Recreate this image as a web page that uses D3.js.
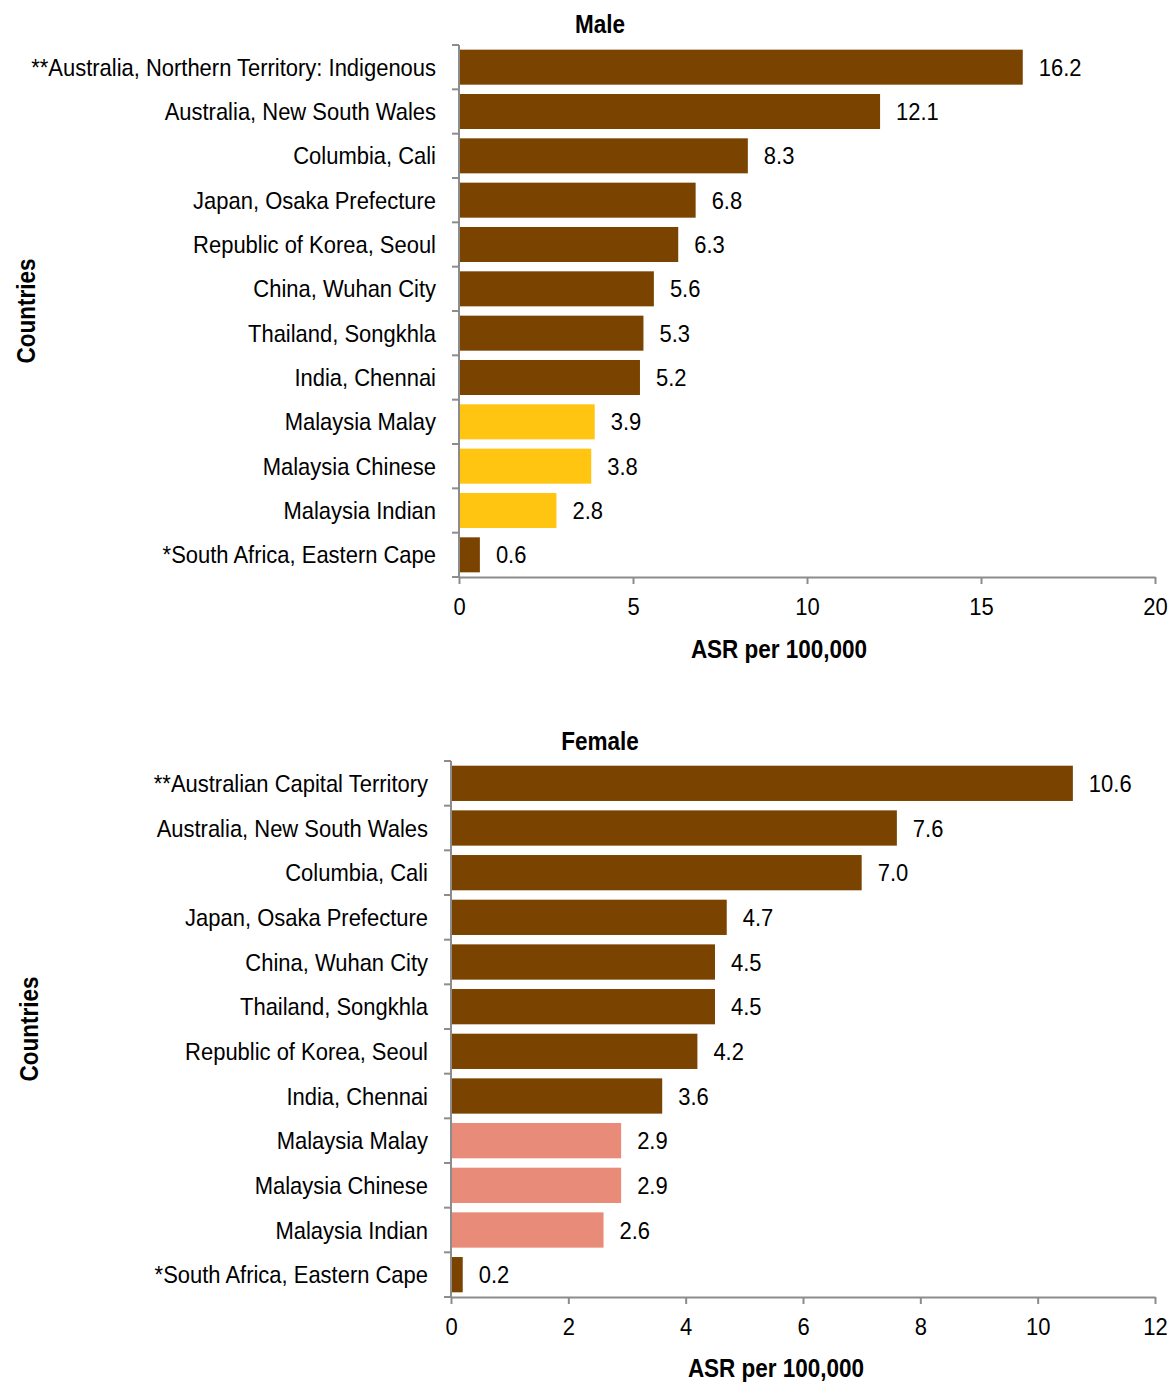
<!DOCTYPE html>
<html><head><meta charset="utf-8">
<script src="https://cdn.jsdelivr.net/npm/d3@7"></script>
<style>body{margin:0;background:#fff}svg{display:block}text{font-family:"Liberation Sans",Arial,sans-serif}</style>
</head><body>
<svg id="c" width="1173" height="1383"></svg>
<script>
const maleCategories = ["**Australia, Northern Territory: Indigenous","Australia, New South Wales","Columbia, Cali","Japan, Osaka Prefecture","Republic of Korea, Seoul","China, Wuhan City","Thailand, Songkhla","India, Chennai","Malaysia Malay","Malaysia Chinese","Malaysia Indian","*South Africa, Eastern Cape"];
const maleValues = [16.2,12.1,8.3,6.8,6.3,5.6,5.3,5.2,3.9,3.8,2.8,0.6];
const maleMalaysia = [false,false,false,false,false,false,false,false,true,true,true,false];
const maleTicks = [0,5,10,15,20];

const femaleCategories = ["**Australian Capital Territory","Australia, New South Wales","Columbia, Cali","Japan, Osaka Prefecture","China, Wuhan City","Thailand, Songkhla","Republic of Korea, Seoul","India, Chennai","Malaysia Malay","Malaysia Chinese","Malaysia Indian","*South Africa, Eastern Cape"];
const femaleValues = [10.6,7.6,7.0,4.7,4.5,4.5,4.2,3.6,2.9,2.9,2.6,0.2];
const femaleMalaysia = [false,false,false,false,false,false,false,false,true,true,true,false];
const femaleTicks = [0,2,4,6,8,10,12];

const svg = d3.select("#c");
const axisColor = "#8c8c8c";
const FS = 24, SX = 0.915;      // regular text: narrow look
const BFS = 25, BSX = 0.9;      // bold text

function panel(o){
  const g = svg.append("g");
  const x = d3.scaleLinear().domain([0,o.max]).range([o.x0,o.x1]);
  const y = d3.scaleBand().domain(o.cats).range([o.y0,o.y1]).paddingInner(0.21).paddingOuter(0.105);
  const data = o.cats.map((c,i)=>({c,v:o.vals[i],m:o.mal[i]}));
  g.selectAll("rect.bar").data(data).join("rect")
    .attr("x",x(0)).attr("y",d=>y(d.c)).attr("width",d=>x(d.v)-x(0)).attr("height",y.bandwidth())
    .attr("fill",d=>d.m?o.malColor:"#7B4300");
  g.selectAll("text.val").data(data).join("text")
    .attr("transform",d=>`translate(${x(d.v)+16},${y(d.c)+y.bandwidth()/2}) scale(${SX},1)`).attr("dy","0.36em")
    .attr("font-size",FS).attr("fill","#000").text(d=>d.v.toFixed(1));
  // y axis
  const yStep = (o.y1-o.y0)/o.cats.length;
  g.append("line").attr("x1",x(0)).attr("x2",x(0)).attr("y1",o.y0).attr("y2",o.y1).attr("stroke",axisColor).attr("stroke-width",2);
  for(let i=0;i<=o.cats.length;i++){
    const yy=o.y0+i*yStep;
    g.append("line").attr("x1",x(0)-7).attr("x2",x(0)).attr("y1",yy).attr("y2",yy).attr("stroke",axisColor).attr("stroke-width",2);
  }
  g.selectAll("text.cat").data(data).join("text")
    .attr("transform",d=>`translate(${x(0)-23},${y(d.c)+y.bandwidth()/2}) scale(${SX},1)`).attr("dy","0.36em")
    .attr("text-anchor","end").attr("font-size",FS).text(d=>d.c);
  // x axis
  const xa = d3.axisBottom(x).tickValues(o.ticks).tickSize(7).tickSizeOuter(0).tickPadding(14);
  const ax = g.append("g").attr("transform",`translate(0,${o.y1})`).call(xa);
  ax.select(".domain").attr("stroke",axisColor).attr("stroke-width",2);
  ax.selectAll(".tick line").attr("stroke",axisColor).attr("stroke-width",2);
  ax.selectAll(".tick text").attr("font-size",FS).attr("fill","#000").attr("transform",`scale(${SX},1)`)
    .attr("font-family",'"Liberation Sans",Arial,sans-serif');
  g.append("text").attr("transform",`translate(${o.titleX},${o.titleY}) scale(${BSX},1)`).attr("text-anchor","middle").attr("font-size",BFS).attr("font-weight","bold").text(o.title);
  g.append("text").attr("transform",`translate(${o.xlabX},${o.xlabY}) scale(${BSX},1)`).attr("text-anchor","middle").attr("font-size",BFS).attr("font-weight","bold").text("ASR per 100,000");
  g.append("text").attr("transform",`translate(${o.ylabX},${(o.y0+o.y1)/2}) rotate(-90) scale(${BSX},1)`).attr("text-anchor","middle").attr("font-size",BFS).attr("font-weight","bold").text("Countries");
}

panel({cats:maleCategories,vals:maleValues,mal:maleMalaysia,malColor:"#FFC510",max:20,ticks:maleTicks,
  x0:459,x1:1155,y0:45,y1:577,title:"Male",titleX:600,titleY:33,xlabX:779,xlabY:658,ylabX:35});
panel({cats:femaleCategories,vals:femaleValues,mal:femaleMalaysia,malColor:"#E88B78",max:12,ticks:femaleTicks,
  x0:451,x1:1155,y0:761,y1:1297,title:"Female",titleX:600,titleY:750,xlabX:776,xlabY:1377,ylabX:38});
</script>
</body></html>
